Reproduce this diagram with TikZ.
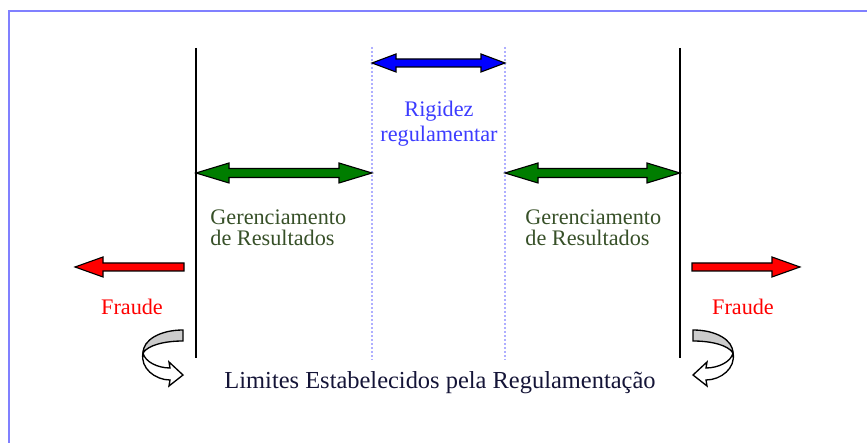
\documentclass[tikz,border=0pt]{standalone}
\usepackage{fontspec}
\setmainfont{Liberation Serif}
\usetikzlibrary{calc}
\definecolor{frameblue}{RGB}{128,128,255}
\definecolor{dotblue}{RGB}{175,175,255}
\definecolor{rigblue}{RGB}{60,60,255}
\definecolor{gerolive}{RGB}{55,80,40}
\definecolor{limnavy}{RGB}{20,20,55}
\definecolor{arrgreen}{RGB}{0,125,0}
\tikzset{%
    frm/.style={line width=0.9pt, frameblue},
    lim/.style={line width=1.2pt},
    dlim/.style={line width=0.8pt, dotblue, densely dotted},
    fatarrow/.style={line width=0.5pt, draw=black, line join=miter},
    curv/.style={line width=0.6pt, draw=black},
    txt/.style={inner sep=0pt, font=\fontsize{10}{9.6}\selectfont},
    pics/curvarrow/.style={code={%
        \filldraw[curv, fill=black!20] (0,0) .. controls (-23,0) and (-40,10) .. (-40,23)
            .. controls (-35,15) and (-18,11) .. (0,11) -- cycle;
        \filldraw[curv, fill=white] (-40,23) .. controls (-38,32) and (-25,38) .. (-13,38)
            -- (-14,32) -- (0,45) -- (-14,56) -- (-13,50)
            .. controls (-28,50) and (-43,38) .. (-40,23) -- cycle;
    }},
}
% double block arrow: from, to, colour, head length, head half width, shaft half width
\newcommand{\fatdbl}[6]{%
    \filldraw[fatarrow, fill=#3] (#1) -- ($(#1)+(#4,-#5)$) -- ($(#1)+(#4,-#6)$)
        -- ($(#2)+(-#4,-#6)$) -- ($(#2)+(-#4,-#5)$) -- (#2) -- ($(#2)+(-#4,#5)$)
        -- ($(#2)+(-#4,#6)$) -- ($(#1)+(#4,#6)$) -- ($(#1)+(#4,#5)$) -- cycle;}
% single block arrow: tail, tip, colour, signed head offset, head half width
\newcommand{\fatone}[5]{%
    \filldraw[fatarrow, fill=#3] ($(#1)+(0,-4)$) -- ($(#2)+(#4,-4)$) -- ($(#2)+(#4,-#5)$)
        -- (#2) -- ($(#2)+(#4,#5)$) -- ($(#2)+(#4,4)$) -- ($(#1)+(0,4)$) -- cycle;}
\begin{document}
\begin{tikzpicture}[x=0.45pt, y=-0.45pt]
    \useasboundingbox (0,0) rectangle (867,443);
    \draw [frm] (867,11) -- (9,11) -- (9,443);
    % limits
    \coordinate (lt) at (196,48);  \coordinate (lb) at (196,358);
    \coordinate (rt) at (680,48);  \coordinate (rb) at (680,358);
    \coordinate (dlt) at (372,47); \coordinate (dlb) at (372,360);
    \coordinate (drt) at (505,47); \coordinate (drb) at (505,360);
    \draw [lim] (lt) -- (lb);
    \draw [lim] (rt) -- (rb);
    \draw [dlim] (dlt) -- (dlb);
    \draw [dlim] (drt) -- (drb);
    % arrows
    \coordinate (bL) at (dlt|-0,63);  \coordinate (bR) at (drt|-0,63);
    \coordinate (gL1) at (lt|-0,173); \coordinate (gR1) at (dlt|-0,173);
    \coordinate (gL2) at (drt|-0,173); \coordinate (gR2) at (rt|-0,173);
    \coordinate (fL0) at (184,267); \coordinate (fL1) at (75,267);
    \coordinate (fR0) at (692,267); \coordinate (fR1) at (800,267);
    \fatdbl{bL}{bR}{blue}{24}{9}{4}
    \fatdbl{gL1}{gR1}{arrgreen}{33}{10}{4.5}
    \fatdbl{gL2}{gR2}{arrgreen}{33}{10}{4.5}
    \fatone{fL0}{fL1}{red}{28}{10}
    \fatone{fR0}{fR1}{red}{-28}{10}
    \pic at (183,330) {curvarrow};
    \pic[xscale=-1] at (693,330) {curvarrow};
    % labels
    \node [txt, rigblue, align=center, font=\fontsize{10}{11.3}\selectfont] (rig) at (439,124) {Rigidez\\regulamentar};
    \node [txt, gerolive, align=left, anchor=west] (gerL) at (210,228) {Gerenciamento\\de Resultados};
    \node [txt, gerolive, align=left, anchor=west] (gerR) at (525,228) {Gerenciamento\\de Resultados};
    \node [txt, red] (frL) at (132,307) {Fraude};
    \node [txt, red] (frR) at (743,307) {Fraude};
    \node [txt, limnavy, font=\fontsize{11}{13}\selectfont] (lim) at (440,383) {Limites Estabelecidos pela Regulamentação};
\end{tikzpicture}
\end{document}
